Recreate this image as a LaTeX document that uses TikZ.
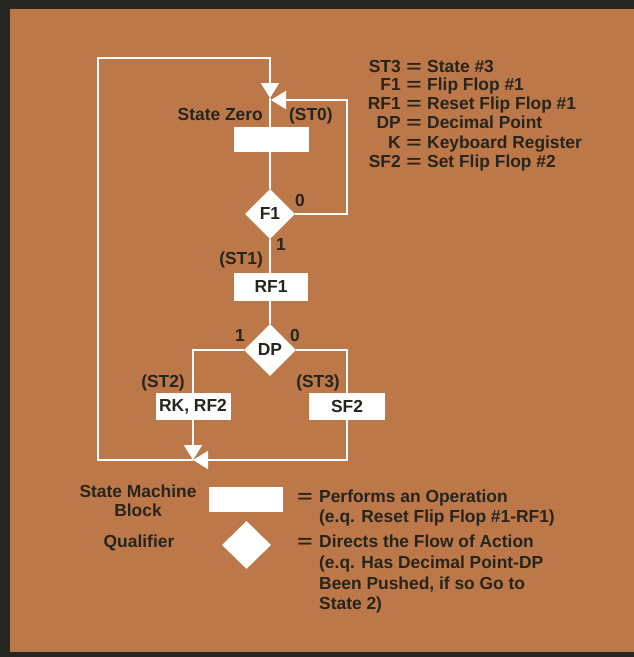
\documentclass[tikz,border=0pt]{standalone}
\usepackage{fontspec}
\setmainfont{Liberation Sans}
\usetikzlibrary{arrows.meta,shapes.geometric}
\definecolor{bg}{RGB}{188,120,73}
\definecolor{ink}{RGB}{38,36,28}
\definecolor{framec}{RGB}{38,38,36}
\newcommand{\wideeq}{\scalebox{1.5}[1]{=}}
\begin{document}
\begin{tikzpicture}[x=1pt,y=-1pt,
 txt/.style={font=\fontsize{17.4}{20}\selectfont\bfseries, text=ink, inner sep=0pt},
 blk/.style={fill=white, minimum width=75pt, minimum height=26pt, inner sep=0pt, txt},
 qual/.style={diamond, fill=white, minimum width=50pt, minimum height=50pt, inner sep=0pt, txt},
 flow/.style={draw=white, line width=2pt},
 tip/.style={-{Triangle[length=15pt,width=18pt]}},
]
\useasboundingbox (0,0) rectangle (634,657);
\fill[bg] (0,0) rectangle (634,657);
\fill[framec] (0,0) rectangle (634,9);
\fill[framec] (0,0) rectangle (10,657);
\fill[framec] (0,652) rectangle (634,657);

% blocks
\node[blk, minimum height=25pt] (s0) at (271,139.5) {};
\node[qual] (f1) at (270,214) {F1};
\node[blk, minimum height=28pt, minimum width=74pt] (rf1) at (271,287) {RF1};
\node[qual, minimum width=52pt, minimum height=52pt] (dp) at (270,350) {DP};
\node[blk, minimum height=27pt] (rk) at (193,406.5) {RK, RF2};
\node[blk, minimum height=27pt, minimum width=76pt] (sf2) at (347,406.5) {SF2};

\coordinate (jb) at (193,460);
\coordinate (bl) at (98,460);
\coordinate (tl) at (98,58);
\coordinate (jt) at (270,98);
\coordinate (ja) at (271,100);
\coordinate (cr) at (347,100);

% connectors
\draw[flow] (jt) -- (s0.north -| jt);
\draw[flow] (s0.south -| f1.north) -- (f1.north);
\draw[flow] (f1.south) -- (rf1.north -| f1.south);
\draw[flow] (rf1.south -| dp.north) -- (dp.north);
\draw[flow] (dp.west) -| (rk.north);
\draw[flow] (dp.east) -| (sf2.north);
\draw[flow,tip] (rk.south) -- (jb);
\draw[flow,tip] (sf2.south) |- (jb);
\draw[flow,tip] (jb) -- (bl) -- (tl) -| (jt);
\draw[flow,tip] (f1.east) -| (cr) -- (ja);

% labels
\node[txt, anchor=base east] (lz) at (263,120) {State Zero};
\node[txt, anchor=base west] (l0) at (289,120) {(ST0)};
\node[txt, anchor=base] (f1o) at (300,206) {0};
\node[txt, anchor=base] (f1i) at (281,250) {1};
\node[txt, anchor=base east] (lst1) at (263,264) {(ST1)};
\node[txt, anchor=base] (dp1) at (240,341) {1};
\node[txt, anchor=base] (dp0) at (295,341) {0};
\node[txt, anchor=base] (lst2) at (163,387) {(ST2)};
\node[txt, anchor=base] (lst3) at (318,387) {(ST3)};

% key
\node[txt, anchor=base east] (ka1) at (401,72) {ST3};
\node[txt, anchor=base east] (ka2) at (401,90) {F1};
\node[txt, anchor=base east] (ka3) at (401,109) {RF1};
\node[txt, anchor=base east] (ka4) at (401,128) {DP};
\node[txt, anchor=base east] (ka5) at (401,148) {K};
\node[txt, anchor=base east] (ka6) at (401,167) {SF2};
\node[txt, anchor=base] (ke1) at (414,72) {\wideeq};
\node[txt, anchor=base] (ke2) at (414,90) {\wideeq};
\node[txt, anchor=base] (ke3) at (414,109) {\wideeq};
\node[txt, anchor=base] (ke4) at (414,128) {\wideeq};
\node[txt, anchor=base] (ke5) at (414,148) {\wideeq};
\node[txt, anchor=base] (ke6) at (414,167) {\wideeq};
\node[txt, anchor=base west] (kb1) at (427,72) {State \#3};
\node[txt, anchor=base west] (kb2) at (427,90) {Flip Flop \#1};
\node[txt, anchor=base west] (kb3) at (427,109) {Reset Flip Flop \#1};
\node[txt, anchor=base west] (kb4) at (427,128) {Decimal Point};
\node[txt, anchor=base west] (kb5) at (427,148) {Keyboard Register};
\node[txt, anchor=base west] (kb6) at (427,167) {Set Flip Flop \#2};

% legend
\node[txt, anchor=base] (lsm1) at (138,497) {State Machine};
\node[txt, anchor=base] (lsm2) at (138,516) {Block};
\node[txt, anchor=base] (lq) at (139,547) {Qualifier};
\node[blk, minimum width=74pt, minimum height=25pt] (lgb) at (246,499.5) {};
\node[qual, minimum width=49pt, minimum height=48pt] (lgq) at (246.5,545) {};
\node[txt, anchor=base] (le1) at (305,502) {\wideeq};
\node[txt, anchor=base] (le2) at (305,547) {\wideeq};
\node[txt, anchor=base west] (lt1) at (319,502) {Performs an Operation};
\node[txt, anchor=base west] (lt2) at (319,522) {(e.q. Reset Flip Flop \#1-RF1)};
\node[txt, anchor=base west] (lt3) at (319,547) {Directs the Flow of Action};
\node[txt, anchor=base west] (lt4) at (319,568) {(e.q. Has Decimal Point-DP};
\node[txt, anchor=base west] (lt5) at (319,589) {Been Pushed, if so Go to};
\node[txt, anchor=base west] (lt6) at (319,609) {State 2)};
\end{tikzpicture}
\end{document}
